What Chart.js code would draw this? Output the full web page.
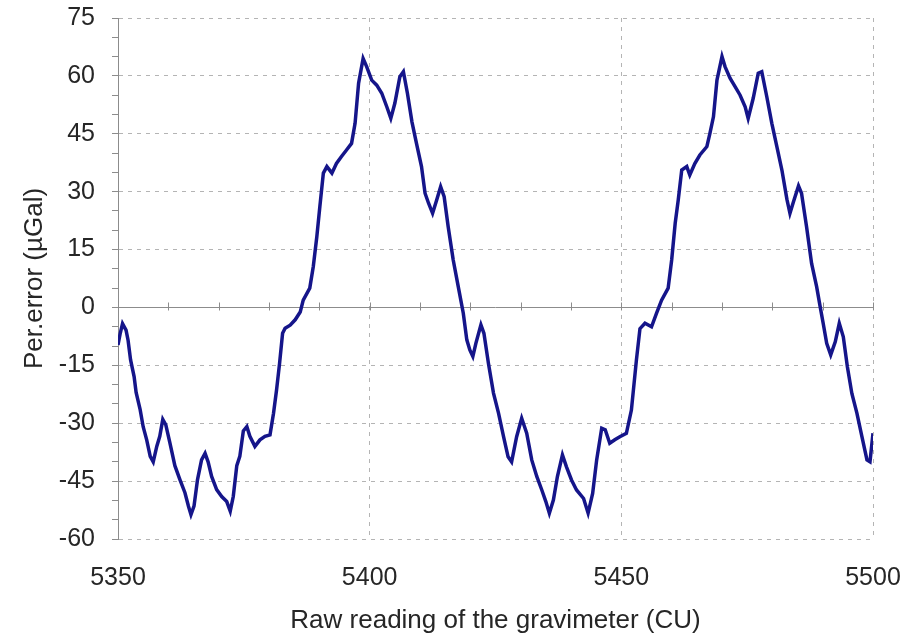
<!DOCTYPE html>
<html>
<head>
<meta charset="utf-8">
<title>Per.error vs raw reading</title>
<script src="https://cdn.jsdelivr.net/npm/chart.js@4.4.1/dist/chart.umd.min.js"></script>
<style>
  html, body { margin: 0; padding: 0; background: #fff; }
  #wrap { width: 920px; height: 638px; }
</style>
</head>
<body>
<div id="wrap"><canvas id="errChart" width="920" height="638"></canvas></div>
<script>
// readings (CU) and periodic error (µGal)
var readings = [
    5350.0, 5350.4, 5350.9, 5351.6, 5352.0, 5352.5, 5353.2, 5353.6, 5354.4, 5355.0,
    5355.7, 5356.4, 5357.0, 5357.7, 5358.3, 5358.9, 5359.5, 5360.3, 5361.3, 5362.3,
    5363.3, 5364.0, 5364.5, 5365.1, 5365.8, 5366.6, 5367.3, 5367.9, 5368.6, 5369.6,
    5370.6, 5371.6, 5372.3, 5372.9, 5373.6, 5374.2, 5374.9, 5375.6, 5376.2, 5377.2,
    5378.2, 5379.2, 5380.2, 5380.9, 5381.5, 5382.1, 5382.7, 5383.2, 5384.2, 5385.2,
    5386.2, 5386.8, 5388.1, 5388.8, 5389.5, 5390.1, 5390.8, 5391.5, 5392.5, 5393.4,
    5394.4, 5395.4, 5396.4, 5397.1, 5397.8, 5398.7, 5399.4, 5400.4, 5401.4, 5402.4,
    5403.4, 5404.2, 5405.0, 5406.0, 5406.7, 5407.5, 5408.4, 5409.3, 5410.3, 5411.0,
    5411.7, 5412.5, 5413.3, 5414.1, 5414.8, 5415.6, 5416.6, 5417.6, 5418.6, 5419.3,
    5419.9, 5420.5, 5421.1, 5422.1, 5422.7, 5423.6, 5424.6, 5425.6, 5426.6, 5427.5,
    5428.2, 5429.2, 5430.2, 5431.2, 5432.2, 5433.2, 5434.2, 5435.0, 5435.7, 5436.5,
    5437.3, 5438.3, 5439.1, 5440.1, 5441.1, 5442.5, 5443.4, 5444.3, 5445.1, 5446.1,
    5446.8, 5447.7, 5448.7, 5449.7, 5451.0, 5452.0, 5453.0, 5453.7, 5454.7, 5456.0,
    5457.0, 5458.0, 5459.3, 5460.0, 5460.7, 5461.3, 5462.0, 5463.0, 5463.6, 5464.6,
    5465.6, 5467.0, 5467.6, 5468.3, 5469.0, 5470.0, 5470.6, 5471.6, 5472.6, 5473.6,
    5474.6, 5475.2, 5476.2, 5477.2, 5477.9, 5478.9, 5479.9, 5480.9, 5481.9, 5482.9,
    5483.5, 5484.2, 5485.2, 5485.8, 5486.8, 5487.8, 5488.8, 5489.5, 5490.1, 5490.8,
    5491.6, 5492.5, 5493.3, 5494.1, 5494.9, 5495.8, 5496.8, 5497.8, 5498.8, 5499.4,
    5500.0
];
var perErrors = [
    -9.7, -7.0, -4.2, -5.9, -8.5, -13.6, -17.9, -22.0, -26.5, -30.9,
    -34.3, -38.6, -40.0, -36.0, -33.4, -29.0, -30.4, -35.0, -41.0, -44.6,
    -48.0, -51.5, -53.7, -51.5, -44.6, -39.5, -37.8, -40.0, -43.8, -47.2,
    -49.0, -50.3, -52.8, -49.0, -41.0, -38.6, -32.0, -30.9, -33.4, -36.0,
    -34.3, -33.4, -33.0, -27.4, -21.4, -14.5, -6.7, -5.4, -4.6, -3.2,
    -1.2, 1.9, 5.0, 10.6, 18.3, 26.1, 34.8, 36.5, 34.8, 37.3,
    39.1, 40.8, 42.5, 47.7, 58.1, 64.5, 62.4, 58.9, 57.6, 55.5,
    52.0, 49.0, 52.9, 59.8, 61.1, 55.5, 48.1, 42.5, 36.5, 29.6,
    27.0, 24.4, 27.8, 31.3, 28.7, 20.9, 12.3, 5.4, -1.5, -8.4,
    -11.0, -12.7, -9.3, -4.5, -6.7, -14.5, -22.2, -27.4, -33.5, -38.7,
    -40.0, -33.5, -28.7, -32.6, -39.5, -43.8, -47.3, -50.3, -53.3, -49.9,
    -43.8, -38.2, -41.3, -44.7, -47.3, -49.5, -53.3, -48.2, -39.5, -31.3,
    -31.7, -35.2, -34.3, -33.5, -32.6, -26.6, -13.6, -5.5, -4.1, -5.0,
    -1.5, 1.9, 5.0, 12.3, 21.8, 27.8, 35.6, 36.5, 34.3, 37.3,
    39.5, 41.7, 45.1, 49.4, 58.9, 65.0, 62.4, 59.4, 57.2, 55.0,
    52.0, 49.0, 54.2, 60.7, 61.1, 54.6, 47.7, 41.7, 35.6, 28.0,
    24.4, 27.4, 31.5, 29.6, 20.9, 11.4, 5.4, 0.2, -4.1, -9.3,
    -12.3, -8.9, -4.1, -7.6, -15.3, -22.3, -27.4, -33.5, -39.5, -40.0,
    -32.6
];

var xMin = 5350, xMax = 5500;
var yMin = -60, yMax = 75;

var fontFamily = "Arial, 'Liberation Sans', sans-serif";
var textColor = '#262626';
var gridColor = '#b4b4b4';
var axisColor = '#8c8c8c';

var points = [];
for (var i = 0; i < readings.length; i++) {
    points.push({ x: readings[i], y: perErrors[i] });
}

// horizontal axis drawn through y = 0 with a tick every 10 CU
var zeroAxis = {
    id: 'zeroAxis',
    beforeDatasetsDraw: function(chart) {
        var ctx = chart.ctx;
        var xs = chart.scales.x;
        var ys = chart.scales.y;
        var y0 = Math.round(ys.getPixelForValue(0)) + 0.5;
        ctx.save();
        ctx.strokeStyle = axisColor;
        ctx.lineWidth = 1;
        ctx.beginPath();
        ctx.moveTo(chart.chartArea.left, y0);
        ctx.lineTo(chart.chartArea.right, y0);
        for (var v = xMin + 10; v <= xMax; v += 10) {
            var px = Math.round(xs.getPixelForValue(v)) + 0.5;
            ctx.moveTo(px, y0 - 5);
            ctx.lineTo(px, y0 + 3);
        }
        ctx.stroke();
        ctx.restore();
    }
};

var ctx = document.getElementById('errChart').getContext('2d');
var errChart = new Chart(ctx, {
    type: 'line',
    data: {
        datasets: [{
            data: points,
            borderColor: '#15158a',
            borderWidth: 3.5,
            pointRadius: 0,
            tension: 0,
            fill: false
        }]
    },
    options: {
        responsive: false,
        animation: false,
        layout: { padding: { left: 8, right: 47, top: 18, bottom: 0 } },
        plugins: {
            legend: { display: false },
            tooltip: { enabled: false }
        },
        scales: {
            x: {
                type: 'linear',
                min: xMin,
                max: xMax,
                afterFit: function(scale) {
                    scale.height = 99;
                    scale.paddingLeft = 0;
                    scale.paddingRight = 0;
                },
                ticks: {
                    stepSize: 50,
                    padding: 24,
                    color: textColor,
                    font: { family: fontFamily, size: 25 },
                    callback: function(value) { return String(value); }
                },
                grid: {
                    drawTicks: false,
                    color: function(c) {
                        return c.tick && c.tick.value === xMin ? 'rgba(0,0,0,0)' : gridColor;
                    }
                },
                border: { display: false, dash: [4, 5] },
                title: {
                    display: true,
                    text: 'Raw reading of the gravimeter (CU)',
                    color: textColor,
                    font: { family: fontFamily, size: 26 },
                    padding: { top: 0, bottom: 2 }
                }
            },
            y: {
                min: yMin,
                max: yMax,
                afterFit: function(scale) {
                    scale.width = 110;
                    scale.paddingTop = 0;
                    scale.paddingBottom = 0;
                },
                ticks: {
                    stepSize: 5,
                    autoSkip: false,
                    padding: 17,
                    color: textColor,
                    font: { family: fontFamily, size: 25 },
                    callback: function(value) {
                        return value % 15 === 0 ? value : '';
                    }
                },
                grid: {
                    tickLength: 6,
                    tickColor: axisColor,
                    color: function(c) {
                        return c.tick && c.tick.value % 15 === 0 ? gridColor : 'rgba(0,0,0,0)';
                    }
                },
                border: { display: true, color: axisColor, width: 1, dash: [4, 5] },
                title: {
                    display: true,
                    text: 'Per.error (µGal)',
                    color: textColor,
                    font: { family: fontFamily, size: 26 },
                    padding: { top: 11, bottom: 0 }
                }
            }
        }
    },
    plugins: [zeroAxis]
});
</script>
</body>
</html>
